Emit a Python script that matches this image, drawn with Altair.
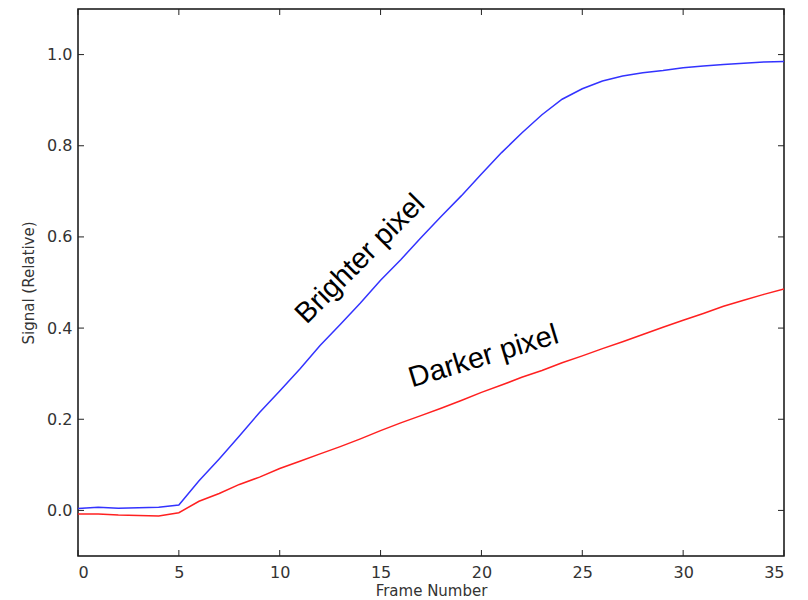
import altair as alt
import pandas as pd

frames = list(range(36))
brighter = [0.004, 0.007, 0.005, 0.006, 0.007, 0.012, 0.065, 0.113, 0.163, 0.215,
            0.262, 0.310, 0.362, 0.408, 0.455, 0.505, 0.550, 0.598, 0.645, 0.690,
            0.738, 0.785, 0.828, 0.868, 0.902, 0.925, 0.942, 0.953, 0.960, 0.965,
            0.971, 0.975, 0.978, 0.981, 0.984, 0.985]
darker = [-0.008, -0.008, -0.010, -0.011, -0.012, -0.005, 0.020, 0.037, 0.057, 0.073,
          0.092, 0.108, 0.124, 0.140, 0.157, 0.175, 0.192, 0.208, 0.224, 0.241,
          0.259, 0.275, 0.292, 0.307, 0.324, 0.339, 0.355, 0.370, 0.386, 0.402,
          0.417, 0.432, 0.448, 0.461, 0.474, 0.486]
x_ticks = [0, 5, 10, 15, 20, 25, 30, 35]
y_ticks = [0.0, 0.2, 0.4, 0.6, 0.8, 1.0]
labels = ["Brighter pixel", "Darker pixel"]
label_x = [13.98, 20.1]
label_y = [0.552, 0.338]
label_angle = [315, 343]

W, H = 706, 547

df = pd.DataFrame({
    "frame": frames * 2,
    "signal": brighter + darker,
    "series": ["Brighter"] * 36 + ["Darker"] * 36,
})
xt = pd.DataFrame({"t": x_ticks})
yt = pd.DataFrame({"t": y_ticks})
ann = pd.DataFrame({"label": labels, "x": label_x, "y": label_y, "angle": label_angle})

xscale = alt.Scale(domain=[0, 35], nice=False, zero=False)
yscale = alt.Scale(domain=[-0.1, 1.1], nice=False, zero=False)

lines = alt.Chart(df).mark_line(strokeWidth=1.5, clip=True).encode(
    x=alt.X("frame:Q", scale=xscale, title="Frame Number",
            axis=alt.Axis(values=x_ticks, format="d", grid=False, domain=False,
                          ticks=False, labelPadding=8, titlePadding=3,
                          labelFontSize=16, titleFontSize=15,
                          labelColor="#333333", titleColor="#333333",
                          labelFont="DejaVu Sans", titleFont="DejaVu Sans",
                          titleFontWeight="normal")),
    y=alt.Y("signal:Q", scale=yscale, title="Signal (Relative)",
            axis=alt.Axis(values=y_ticks, format=".1f", grid=False, domain=False,
                          ticks=False, labelPadding=6, titlePadding=10,
                          labelFontSize=16, titleFontSize=15,
                          labelColor="#333333", titleColor="#333333",
                          labelFont="DejaVu Sans", titleFont="DejaVu Sans",
                          titleFontWeight="normal")),
    color=alt.Color("series:N", scale=alt.Scale(domain=["Brighter", "Darker"],
                                                range=["#3333ff", "#ff2020"]),
                    legend=None),
)

tk = dict(color="#222222", strokeWidth=1)
xt_bottom = alt.Chart(xt).mark_rule(**tk).encode(
    x=alt.X("t:Q", scale=xscale), y=alt.value(H), y2=alt.value(H - 6))
xt_top = alt.Chart(xt).mark_rule(**tk).encode(
    x=alt.X("t:Q", scale=xscale), y=alt.value(0), y2=alt.value(6))
yt_left = alt.Chart(yt).mark_rule(**tk).encode(
    y=alt.Y("t:Q", scale=yscale), x=alt.value(0), x2=alt.value(6))
yt_right = alt.Chart(yt).mark_rule(**tk).encode(
    y=alt.Y("t:Q", scale=yscale), x=alt.value(W), x2=alt.value(W - 6))

text = alt.Chart(ann).mark_text(font="Liberation Sans", fontSize=29,
                                color="black", align="center",
                                baseline="middle").encode(
    x=alt.X("x:Q", scale=xscale),
    y=alt.Y("y:Q", scale=yscale),
    text="label:N",
    angle=alt.Angle("angle:Q", scale=None),
)

chart = alt.layer(lines, xt_bottom, xt_top, yt_left, yt_right, text).properties(
    width=W, height=H,
    autosize=alt.AutoSizeParams(type="none"),
    padding={"left": 70, "top": 1, "right": 16, "bottom": 43},
    background="white",
).configure_view(stroke="#111111", strokeWidth=1.5)

chart.save("out.html", embed_options={"renderer": "svg", "actions": False})
